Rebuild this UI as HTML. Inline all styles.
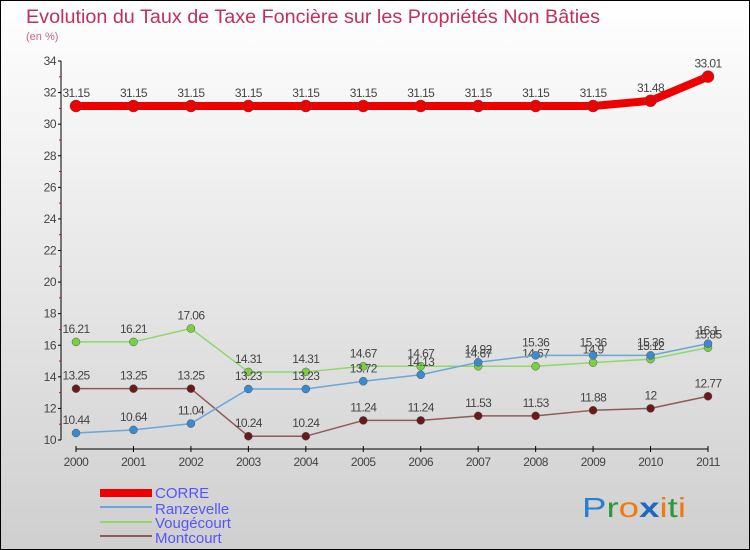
<!DOCTYPE html>
<html><head><meta charset="utf-8"><style>
html,body{margin:0;padding:0}
body{width:750px;height:550px;overflow:hidden}
svg{display:block}
text{font-family:"Liberation Sans","DejaVu Sans",sans-serif}
</style></head><body>
<svg id="chart" width="750" height="550" viewBox="0 0 750 550" xmlns="http://www.w3.org/2000/svg">
<defs><linearGradient id="bg" x1="0" y1="0" x2="0" y2="1"><stop offset="0" stop-color="#ffffff"/><stop offset="1" stop-color="#cfcfcf"/></linearGradient></defs>
<rect x="0.5" y="0.5" width="749" height="549" fill="url(#bg)" stroke="#000"/>
<text x="26" y="23" font-size="19" fill="#c0305a" textLength="574" lengthAdjust="spacingAndGlyphs">Evolution du Taux de Taxe Foncière sur les Propriétés Non Bâties</text>
<text x="26" y="40" font-size="11" fill="#d06090">(en %)</text>
<g id="axes"></g><g id="series"></g>
<g>
<rect x="100" y="489" width="52" height="8" fill="#e00"/>
<line x1="100" y1="507" x2="152" y2="507" stroke="#6aa6d6" stroke-width="2"/>
<line x1="100" y1="522" x2="152" y2="522" stroke="#8fd86a" stroke-width="2"/>
<line x1="100" y1="536" x2="152" y2="536" stroke="#8e5a5a" stroke-width="2"/>
<text x="155" y="498" font-size="15" fill="#5555ff">CORRE</text>
<text x="155" y="514" font-size="15" fill="#5555ff">Ranzevelle</text>
<text x="155" y="528" font-size="15" fill="#5555ff">Vougécourt</text>
<text x="155" y="543" font-size="15" fill="#5555ff">Montcourt</text>
</g>
<g font-size="28">
<text x="582" y="517" textLength="104" lengthAdjust="spacingAndGlyphs"><tspan fill="#2a7fd0">P</tspan><tspan fill="#2a9a3a">r</tspan><tspan fill="#f07a10">o</tspan><tspan fill="#1a6ac0" font-weight="bold">x</tspan><tspan fill="#f07a10">i</tspan><tspan fill="#2a9a3a">t</tspan><tspan fill="#f07a10">i</tspan></text>
</g>
</svg>
<script>
const years=["2000","2001","2002","2003","2004","2005","2006","2007","2008","2009","2010","2011"];
const corre=[31.15,31.15,31.15,31.15,31.15,31.15,31.15,31.15,31.15,31.15,31.48,33.01];
const ranzevelle=[10.44,10.64,11.04,13.23,13.23,13.72,14.13,14.92,15.36,15.36,15.36,16.1];
const vougecourt=[16.21,16.21,17.06,14.31,14.31,14.67,14.67,14.67,14.67,14.9,15.12,15.85];
const montcourt=[13.25,13.25,13.25,10.24,10.24,11.24,11.24,11.53,11.53,11.88,12,12.77];
const yTicks=[10,12,14,16,18,20,22,24,26,28,30,32,34];
const NS="http://www.w3.org/2000/svg";
const X=i=>76+i*(708-76)/11;
const Y=v=>440-(v-10)*(440-61)/24;
function mk(tag,attrs,parent){const e=document.createElementNS(NS,tag);for(const k in attrs)e.setAttribute(k,attrs[k]);parent.appendChild(e);return e;}
const axes=document.getElementById('axes'),ser=document.getElementById('series');
let a=mk('line',{x1:61,y1:Y(34),x2:61,y2:Y(10),stroke:'#000'},axes);


a=mk('line',{x1:X(0),y1:449,x2:X(11),y2:449,stroke:'#000'},axes);


yTicks.forEach(v=>{
 mk('line',{x1:58,y1:Y(v),x2:61,y2:Y(v),stroke:'#000'},axes);
 if(v<34)mk('line',{x1:59,y1:Y(v+1),x2:61,y2:Y(v+1),stroke:'#e00'},axes);
 const t=mk('text',{x:56,y:Y(v)+4,'font-size':12,fill:'#444','text-anchor':'end','letter-spacing':'-0.5'},axes);
 t.textContent=v;
 
 
});
years.forEach((y,i)=>{
 mk('line',{x1:X(i),y1:446,x2:X(i),y2:452,stroke:'#000'},axes);
 const t=mk('text',{x:X(i),y:466,'font-size':12,fill:'#444','text-anchor':'middle','letter-spacing':'-0.5'},axes);
 t.textContent=y;
 
 
});
function series(name,vals,color,w,r,dot){
 const g=mk('g',{},ser);
 
 
 mk('polyline',{points:vals.map((v,i)=>X(i)+','+Y(v)).join(' '),fill:'none',stroke:color,'stroke-width':w,'stroke-linejoin':'round'},g);
 vals.forEach((v,i)=>{
  const c=mk('circle',{cx:X(i),cy:Y(v),r:r,fill:dot,stroke:'#555','stroke-width':0.5},g);
  
  
  const t=mk('text',{x:X(i),y:Y(v)-9,'font-size':12,fill:'#444','text-anchor':'middle','letter-spacing':'-0.6'},g);
  t.textContent=v;
  
  
 });
}
series('montcourt',montcourt,'#8e5a5a',1.5,4,'#6a1a1a');
series('vougecourt',vougecourt,'#8fd86a',1.5,4,'#7ad040');
series('ranzevelle',ranzevelle,'#6aa6d6',1.5,4,'#3a8ad0');
series('corre',corre,'#e00',8,6,'#e00');
</script>
</body></html>
